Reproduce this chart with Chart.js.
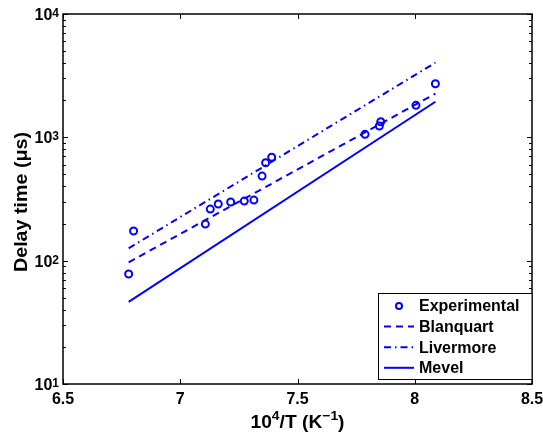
<!DOCTYPE html>
<html>
<head>
<meta charset="utf-8">
<script src="https://cdn.jsdelivr.net/npm/chart.js@4"></script>
<style>
  body { margin: 0; background: #fff; }
  canvas { display: block; }
</style>
</head>
<body>
<canvas id="delayChart" width="543" height="439"></canvas>
<script>
const expX = [6.780, 6.801, 7.107, 7.128, 7.162, 7.215, 7.273, 7.314, 7.349, 7.364, 7.390, 7.788, 7.849, 7.855, 8.005, 8.088];
const expY = [78, 174, 198, 262, 288, 299, 304, 310, 485, 622, 689, 1057, 1236, 1339, 1817, 2722];
const lineX = [6.780, 8.088];
const blanquartY = [97, 2260];
const livermoreY = [126, 4030];
const mevelY = [46.4, 1944];

const xTicks = [6.5, 7, 7.5, 8, 8.5];
const xTickLabels = ['6.5', '7', '7.5', '8', '8.5'];
const yTicks = [10, 100, 1000, 10000];
const yTickExps = ['1', '2', '3', '4'];
const legendLabels = ['Experimental', 'Blanquart', 'Livermore', 'Mevel'];

const BLUE = '#0000ff';
const FONT = '"Liberation Sans", Arial, Helvetica, sans-serif';

function toPoints(xs, ys) {
  return xs.map((v, i) => ({ x: v, y: ys[i] }));
}

// draws text parts (base + superscripts), optionally squeezed/stretched to a width
function drawRich(ctx, parts, x, y, align, targetW) {
  let total = 0;
  const widths = parts.map(p => {
    ctx.font = `bold ${p.size}px ${FONT}`;
    const w = ctx.measureText(p.t).width;
    total += w;
    return w;
  });
  const s = targetW ? targetW / total : 1;
  let x0 = x;
  if (align === 'center') x0 = x - total * s / 2;
  if (align === 'right') x0 = x - total * s;
  ctx.save();
  ctx.translate(x0, y);
  ctx.scale(s, 1);
  ctx.textAlign = 'left';
  ctx.textBaseline = 'alphabetic';
  let cx = 0;
  parts.forEach((p, i) => {
    ctx.font = `bold ${p.size}px ${FONT}`;
    ctx.fillText(p.t, cx, -(p.rise || 0));
    cx += widths[i];
  });
  ctx.restore();
}

const matlabAxes = {
  id: 'matlabAxes',
  beforeDraw(chart) {
    const ctx = chart.ctx;
    ctx.save();
    ctx.fillStyle = '#fff';
    ctx.fillRect(0, 0, chart.width, chart.height);
    ctx.restore();
  },
  afterDraw(chart) {
    const { ctx, chartArea: a, scales: { x, y } } = chart;
    ctx.save();
    ctx.strokeStyle = '#000';
    ctx.fillStyle = '#000';

    // ticks
    ctx.lineWidth = 1;
    ctx.beginPath();
    xTicks.forEach(v => {
      const px = Math.round(x.getPixelForValue(v)) + 0.5;
      ctx.moveTo(px, a.bottom); ctx.lineTo(px, a.bottom - 5);
      ctx.moveTo(px, a.top); ctx.lineTo(px, a.top + 5);
    });
    yTicks.forEach((v, i) => {
      const py = Math.round(y.getPixelForValue(v)) + 0.5;
      ctx.moveTo(a.left, py); ctx.lineTo(a.left + 5, py);
      ctx.moveTo(a.right, py); ctx.lineTo(a.right - 5, py);
      if (i < yTicks.length - 1) {
        for (let m = 2; m <= 9; m++) {
          const pm = Math.round(y.getPixelForValue(v * m)) + 0.5;
          ctx.moveTo(a.left, pm); ctx.lineTo(a.left + 3, pm);
          ctx.moveTo(a.right, pm); ctx.lineTo(a.right - 3, pm);
        }
      }
    });
    ctx.stroke();

    // axes box
    ctx.lineWidth = 1.5;
    ctx.strokeRect(a.left, a.top, a.right - a.left, a.bottom - a.top);

    // x tick labels
    ctx.font = `bold 16px ${FONT}`;
    ctx.textAlign = 'center';
    ctx.textBaseline = 'alphabetic';
    xTicks.forEach((v, i) => {
      ctx.fillText(xTickLabels[i], x.getPixelForValue(v), a.bottom + 20);
    });

    // y tick labels 10^n
    yTicks.forEach((v, i) => {
      const py = y.getPixelForValue(v);
      drawRich(ctx, [
        { t: '10', size: 16 },
        { t: yTickExps[i], size: 12, rise: 3 }
      ], a.left - 4, py + 6, 'right');
    });

    // axis titles
    drawRich(ctx, [
      { t: '10', size: 18 },
      { t: '4', size: 13, rise: 8 },
      { t: '/T (K', size: 18 },
      { t: '\u22121', size: 13, rise: 8 },
      { t: ')', size: 18 }
    ], (a.left + a.right) / 2, 428, 'center', 94);

    ctx.save();
    ctx.translate(27, 202);
    ctx.rotate(-Math.PI / 2);
    drawRich(ctx, [{ t: 'Delay time (\u03bcs)', size: 18 }], 0, 0, 'center', 140);
    ctx.restore();

    // legend
    const lx = 378.5, ly = 293.5, lw = a.right - 378.5, lh = 86;
    ctx.fillStyle = '#fff';
    ctx.fillRect(lx, ly, lw, lh);
    ctx.lineWidth = 1;
    ctx.strokeStyle = '#000';
    ctx.strokeRect(lx, ly, lw, lh);
    const styles = chart.data.datasets;
    legendLabels.forEach((lab, i) => {
      const ym = 306 + i * 20.6;
      const ds = styles[i];
      ctx.strokeStyle = BLUE;
      if (i === 0) {
        ctx.lineWidth = 2;
        ctx.beginPath();
        ctx.arc(399, ym, 3, 0, Math.PI * 2);
        ctx.stroke();
      } else {
        ctx.lineWidth = 2;
        ctx.setLineDash(ds.borderDash || []);
        ctx.beginPath();
        ctx.moveTo(384, ym); ctx.lineTo(414, ym);
        ctx.stroke();
        ctx.setLineDash([]);
      }
      ctx.fillStyle = '#000';
      ctx.font = `bold 16px ${FONT}`;
      ctx.textAlign = 'left';
      ctx.textBaseline = 'middle';
      ctx.fillText(lab, 419, ym + 1);
    });
    ctx.restore();
  }
};

const delayChart = new Chart(document.querySelector('#delayChart'), {
  type: 'scatter',
  data: {
    datasets: [{
      label: legendLabels[0],
      data: toPoints(expX, expY),
      showLine: false,
      pointStyle: 'circle',
      pointRadius: 3.5,
      pointBorderWidth: 2,
      borderColor: BLUE,
      backgroundColor: 'rgba(0,0,0,0)'
    },
    {
      label: legendLabels[1],
      data: toPoints(lineX, blanquartY),
      showLine: true,
      borderColor: BLUE,
      borderWidth: 2,
      borderDash: [7, 5],
      pointRadius: 0
    },
    {
      label: legendLabels[2],
      data: toPoints(lineX, livermoreY),
      showLine: true,
      borderColor: BLUE,
      borderWidth: 2,
      borderDash: [7, 4, 1.5, 4],
      pointRadius: 0
    },
    {
      label: legendLabels[3],
      data: toPoints(lineX, mevelY),
      showLine: true,
      borderColor: BLUE,
      borderWidth: 2,
      pointRadius: 0
    }]
  },
  options: {
    responsive: false,
    animation: false,
    devicePixelRatio: 1,
    layout: { padding: { left: 63, top: 14, right: 11, bottom: 55 } },
    scales: {
      x: { type: 'linear', min: 6.5, max: 8.5, display: false },
      y: { type: 'logarithmic', min: 10, max: 10000, display: false }
    },
    plugins: {
      legend: { display: false },
      tooltip: { enabled: false }
    }
  },
  plugins: [matlabAxes]
});
</script>
</body>
</html>
